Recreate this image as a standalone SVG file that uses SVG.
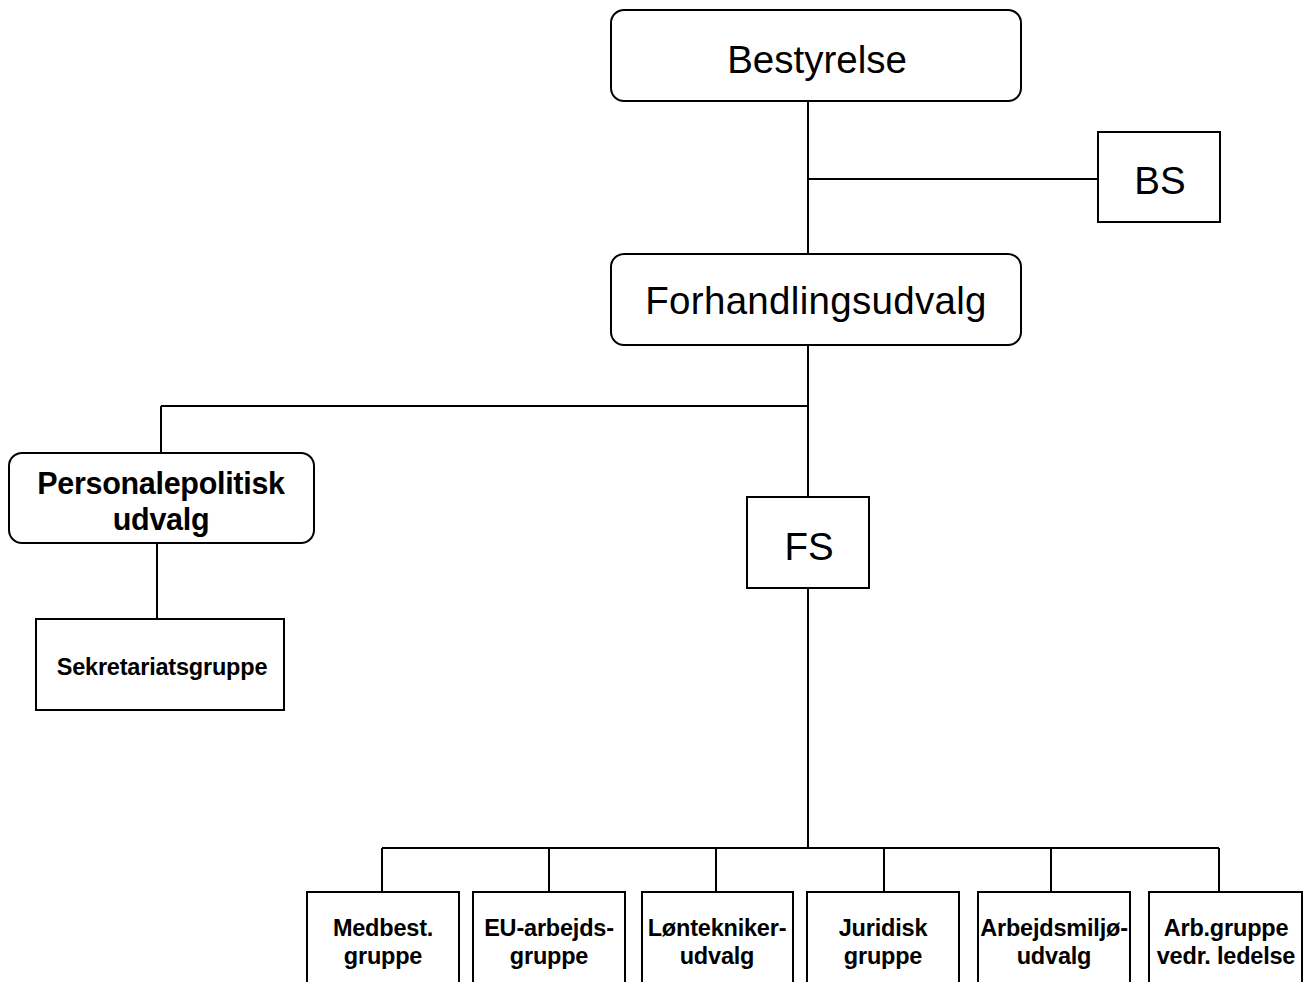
<svg xmlns="http://www.w3.org/2000/svg" width="1316" height="982" viewBox="0 0 1316 982">
<style>
.box{fill:#fff;stroke:#000;stroke-width:2}
.ln{stroke:#000;stroke-width:2;fill:none}
.big{font-family:"Liberation Sans",Arial,sans-serif;font-size:38.5px;fill:#000;text-anchor:middle}
.mid{font-family:"Liberation Sans",Arial,sans-serif;font-size:30.5px;font-weight:bold;fill:#000;text-anchor:middle;letter-spacing:-0.3px}
.sm{font-family:"Liberation Sans",Arial,sans-serif;font-size:23.5px;font-weight:bold;fill:#000;text-anchor:middle;letter-spacing:-0.2px}
</style>
<rect width="1316" height="982" fill="#fff"/>
<g id="connectors">
<path class="ln" d="M808 101V254M808 179H1098M808 345V497M161 406H808M161 406V453M157 543V619M808 588V848M382 848H1219M382 848V892M549 848V892M716 848V892M884 848V892M1051 848V892M1219 848V892"/>
</g>
<g id="bestyrelse"><rect class="box" x="611" y="10" width="410" height="91" rx="13"/><text class="big" x="817" y="73">Bestyrelse</text></g>
<g id="bs"><rect class="box" x="1098" y="132" width="122" height="90"/><text class="big" x="1160" y="194">BS</text></g>
<g id="forhandlingsudvalg"><rect class="box" x="611" y="254" width="410" height="91" rx="13"/><text class="big" x="816" y="314" letter-spacing="0.3">Forhandlingsudvalg</text></g>
<g id="personalepolitisk"><rect class="box" x="9" y="453" width="305" height="90" rx="13"/><text class="mid" x="161" y="494">Personalepolitisk</text><text class="mid" x="161" y="530">udvalg</text></g>
<g id="sekretariatsgruppe"><rect class="box" x="36" y="619" width="248" height="91"/><text class="sm" x="162" y="675" font-size="24.5">Sekretariatsgruppe</text></g>
<g id="fs"><rect class="box" x="747" y="497" width="122" height="91"/><text class="big" x="809" y="560">FS</text></g>
<g id="medbest"><rect class="box" x="307" y="892" width="152" height="100"/><text class="sm" x="383" y="936">Medbest.</text><text class="sm" x="383" y="964">gruppe</text></g>
<g id="eu"><rect class="box" x="473" y="892" width="152" height="100"/><text class="sm" x="549" y="936">EU-arbejds-</text><text class="sm" x="549" y="964">gruppe</text></g>
<g id="lontekniker"><rect class="box" x="642" y="892" width="151" height="100"/><text class="sm" x="717" y="936">Løntekniker-</text><text class="sm" x="717" y="964">udvalg</text></g>
<g id="juridisk"><rect class="box" x="807" y="892" width="152" height="100"/><text class="sm" x="883" y="936">Juridisk</text><text class="sm" x="883" y="964">gruppe</text></g>
<g id="arbejdsmiljo"><rect class="box" x="978" y="892" width="152" height="100"/><text class="sm" x="1054" y="936">Arbejdsmiljø-</text><text class="sm" x="1054" y="964">udvalg</text></g>
<g id="arbgruppe"><rect class="box" x="1149" y="892" width="153" height="100"/><text class="sm" x="1226" y="936">Arb.gruppe</text><text class="sm" x="1226" y="964">vedr. ledelse</text></g>
</svg>
